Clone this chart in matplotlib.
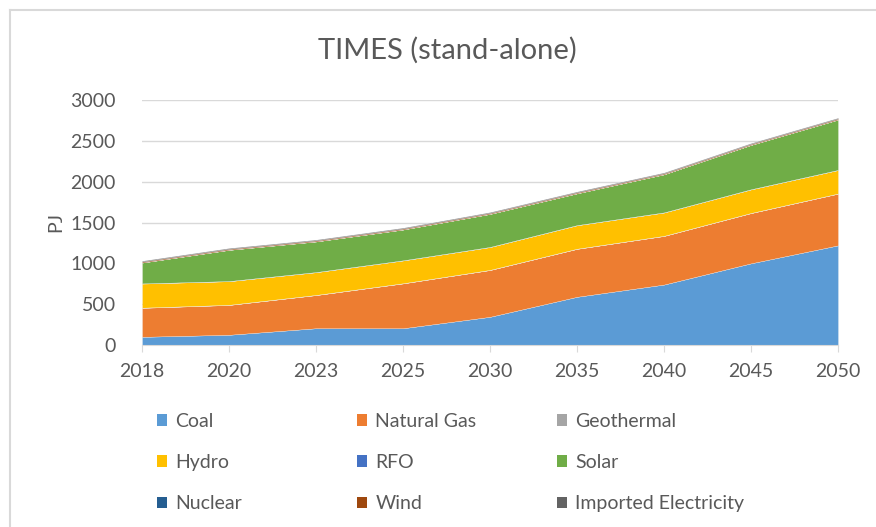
#!/usr/bin/env python3

import matplotlib
matplotlib.use("Agg")
import matplotlib.pyplot as plt
from matplotlib.patches import Patch
from matplotlib.lines import Line2D
import numpy as np

plt.rcParams['font.family'] = ['Lato', 'DejaVu Sans']

# data (PJ)
years = ["2018", "2020", "2023", "2025", "2030", "2035", "2040", "2045", "2050"]
coal = [100, 125, 205, 205, 345, 590, 740, 1000, 1220]
natural_gas = [355, 365, 406, 549, 573, 587, 595, 615, 633]
geothermal = [2, 2, 2, 2, 2, 2, 2, 2, 2]
hydro = [295, 289, 278, 279, 279, 287, 285, 288, 287]
rfo = [2, 2, 2, 2, 2, 2, 2, 2, 2]
solar = [255, 382, 375, 377, 404, 389, 466, 543, 616]
nuclear = [0, 0, 0, 0, 0, 0, 0, 0, 0]
wind = [12, 12, 12, 12, 12, 12, 12, 12, 12]
imported = [10, 10, 10, 10, 10, 10, 10, 10, 10]

labels = ["Coal", "Natural Gas", "Geothermal", "Hydro", "RFO", "Solar",
          "Nuclear", "Wind", "Imported Electricity"]
colors = ["#5B9BD5", "#ED7D31", "#A5A5A5", "#FFC000", "#4472C4", "#70AD47",
          "#255E91", "#9E480E", "#636363"]
series = [coal, natural_gas, geothermal, hydro, rfo, solar, nuclear, wind, imported]

TXT = "#595959"
W, H = 876, 527

fig = plt.figure(figsize=(W / 100, H / 100), dpi=100)
ax = fig.add_axes([142 / W, 1 - 345 / H, (838 - 142) / W, (345 - 100) / H])

x = np.arange(len(years))
ax.stackplot(x, *series, colors=colors, labels=labels, linewidth=0.2,
             edgecolor="#f4f4f4")

ax.set_xlim(0, len(years) - 1)
ax.set_ylim(0, 3000)
ax.set_yticks(range(0, 3001, 500))
ax.set_xticks(x)
ax.set_xticklabels(years)
ax.grid(axis="y", color="#D9D9D9", linewidth=1)
ax.set_axisbelow(True)
for s in ["top", "right", "left"]:
    ax.spines[s].set_visible(False)
ax.spines["bottom"].set_color("#D9D9D9")
ax.tick_params(axis="y", length=0, pad=19, labelsize=14, labelcolor=TXT)
ax.tick_params(axis="x", length=5, color="#D9D9D9", pad=8, labelsize=14,
               labelcolor=TXT)
ax.set_ylabel("PJ", fontsize=14, color=TXT, labelpad=4)

fig.text(447 / W, 1 - 50 / H, "TIMES (stand-alone)", ha="center", va="center",
         fontsize=21, color=TXT)

# chart border (Excel style)
fig.add_artist(Line2D([10 / W, 10 / W], [0, 1 - 10 / H], color="#D9D9D9",
                      linewidth=1.5, transform=fig.transFigure))
fig.add_artist(Line2D([10 / W, 1], [1 - 10 / H, 1 - 10 / H], color="#D9D9D9",
                      linewidth=1.5, transform=fig.transFigure))

# legend: three columns
col_x = [149, 349, 549]
for c in range(3):
    handles = [Patch(facecolor=colors[c + 3 * r], edgecolor="none")
               for r in range(3)]
    labs = [labels[c + 3 * r] for r in range(3)]
    fig.legend(handles, labs, loc="upper left",
               bbox_to_anchor=(col_x[c] / W, 1 - 405 / H), frameon=False,
               fontsize=14, labelcolor=TXT, handlelength=0.55,
               handleheight=0.55, handletextpad=0.4, labelspacing=1.25,
               borderaxespad=0)

fig.savefig("out.png", dpi=100)
